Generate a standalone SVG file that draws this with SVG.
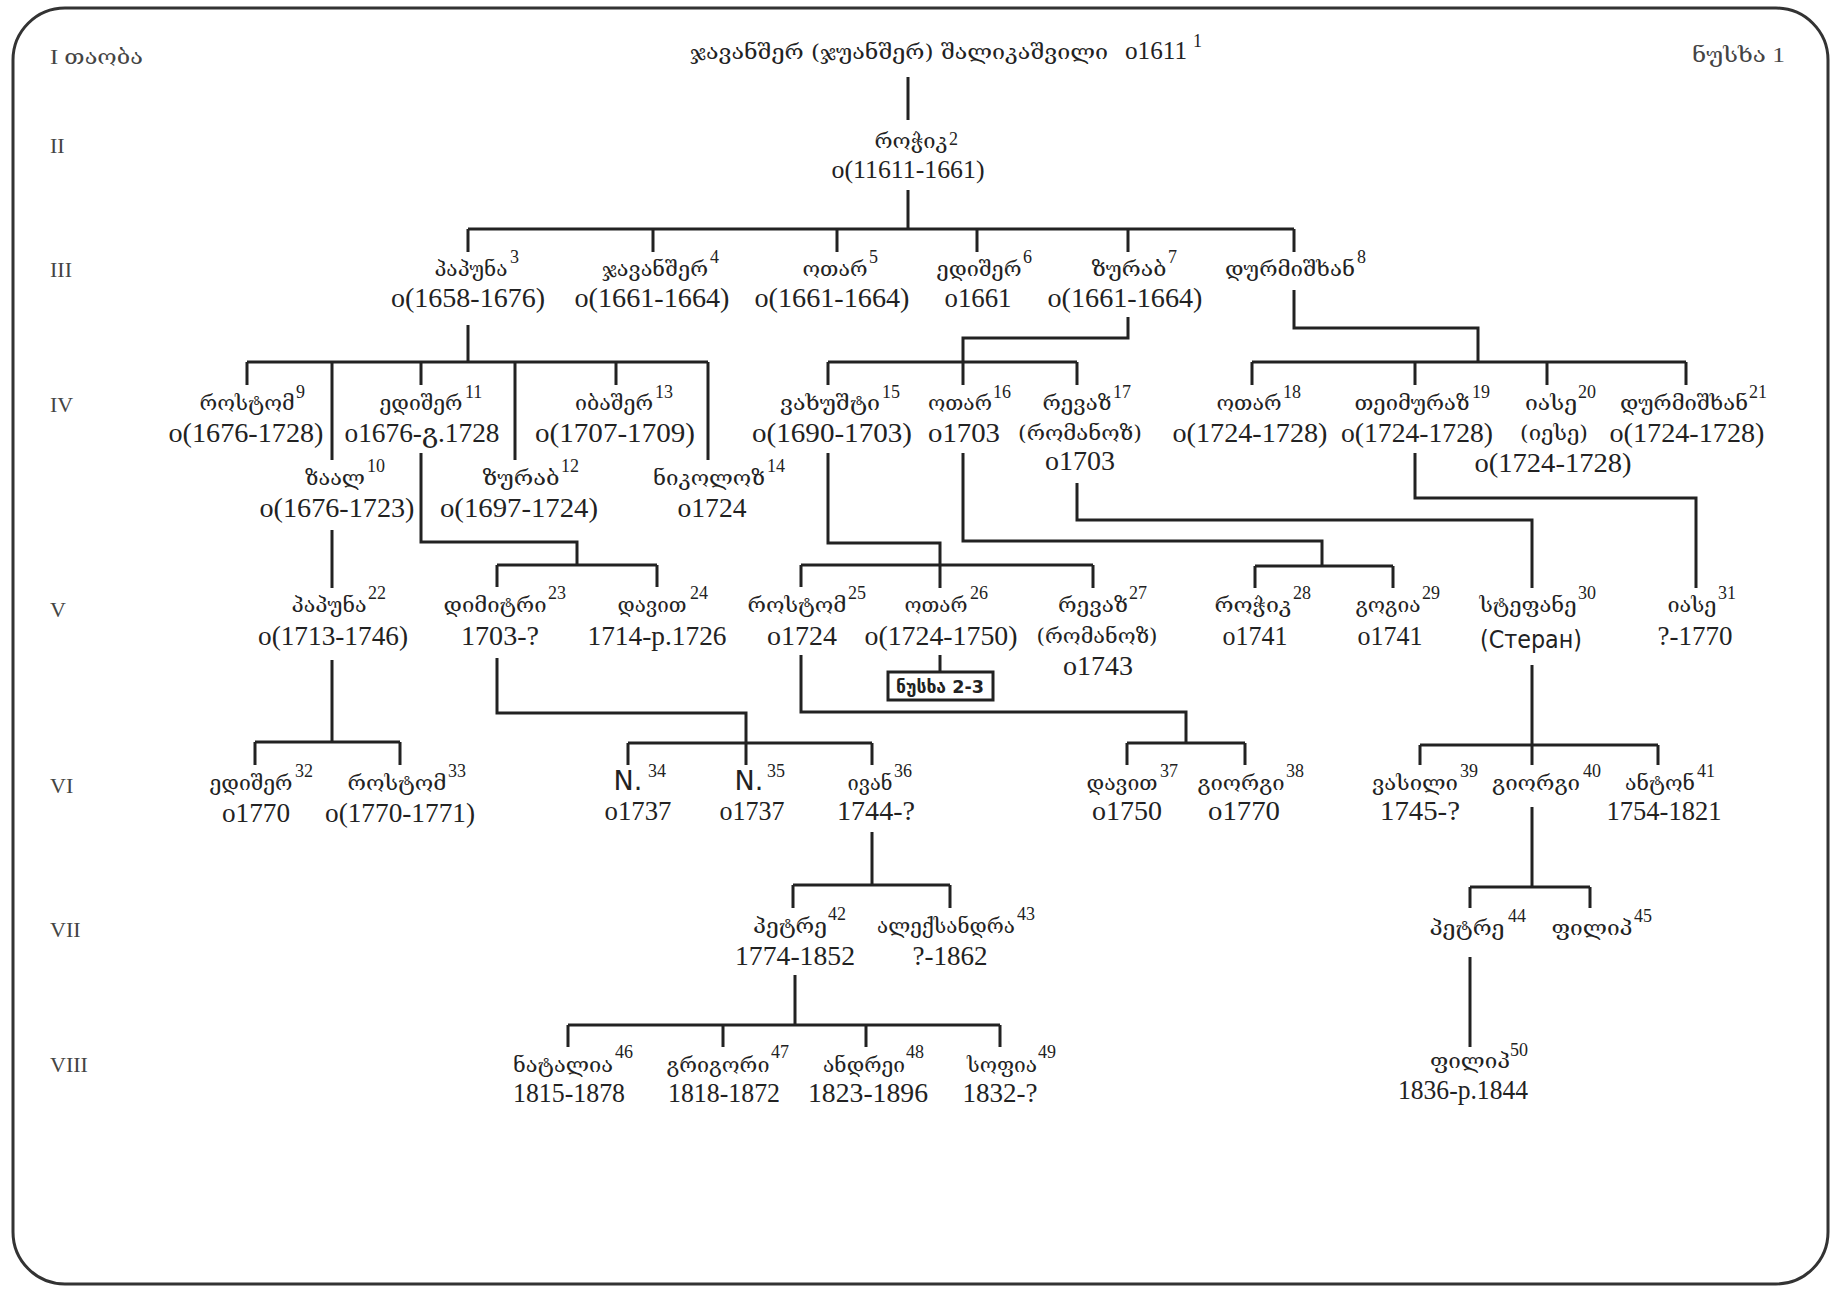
<svg xmlns="http://www.w3.org/2000/svg" width="1832" height="1290" viewBox="0 0 1832 1290">
<style>
text{fill:#222}
.nm{font-family:"DejaVu Serif","DejaVu Sans",serif;font-size:20px;text-anchor:middle}
.dt{font-family:"Liberation Serif","DejaVu Serif",serif;font-size:27px;text-anchor:middle}
.sup{font-family:"Liberation Serif",serif;font-size:18px}
.lab{font-family:"Liberation Serif","DejaVu Serif",serif;font-size:22px;fill:#444}
.sn{font-family:"DejaVu Sans",sans-serif;font-size:24px;text-anchor:middle}
.bx{font-family:"DejaVu Sans",sans-serif;font-size:17px;font-weight:bold;text-anchor:middle}
.c path{fill:none;stroke:#222;stroke-width:3}
</style>
<rect x="13" y="8" width="1815" height="1276" rx="52" fill="#fff" stroke="#333" stroke-width="3"/>
<g id="labels">
<text class="lab" x="50" y="64" textLength="93" lengthAdjust="spacingAndGlyphs">I <tspan font-family="DejaVu Serif,DejaVu Sans,serif" font-size="21">თაობა</tspan></text>
<text class="lab" x="50" y="153">II</text>
<text class="lab" x="50" y="277">III</text>
<text class="lab" x="50" y="412">IV</text>
<text class="lab" x="50" y="617">V</text>
<text class="lab" x="50" y="793">VI</text>
<text class="lab" x="50" y="937">VII</text>
<text class="lab" x="50" y="1072">VIII</text>
<text class="lab" x="1692" y="62" textLength="93" lengthAdjust="spacingAndGlyphs"><tspan font-family="DejaVu Serif,DejaVu Sans,serif" font-size="21">ნუსხა</tspan> 1</text>
</g>
<g id="connectors" class="c">
<path d="M908 77V120M908 190V229"/>
<path d="M468 229H1294M468 229V252M653 229V252M837 229V252M977 229V252M1128 229V252M1294 229V252"/>
<path d="M468 325V362M247 362H708M247 362V385M421 362V385M616 362V385M332 362V460M515 362V460M708 362V460"/>
<path d="M1128 317V338H963V362M828 362H1077M828 362V385M963 362V385M1077 362V385"/>
<path d="M1294 290V328H1478V362M1252 362H1686M1252 362V385M1415 362V385M1547 362V385M1686 362V385"/>
<path d="M332 530V588"/>
<path d="M421 453V542H577V565M497 565H657M497 565V587M657 565V587"/>
<path d="M828 453V543H940V588M801 565H1093M801 565V587M1093 565V588"/>
<path d="M963 453V541H1322V566M1255 566H1393M1255 566V588M1393 566V588"/>
<path d="M1077 483V520H1532V588"/>
<path d="M1415 453V498H1696V588"/>
<path d="M332 660V742M255 742H400M255 742V765M400 742V765"/>
<path d="M497 658V713H746V765M628 743H872M628 743V765M872 743V765"/>
<path d="M940 655V672"/>
<path d="M801 655V712H1186V743M1127 743H1245M1127 743V765M1245 743V765"/>
<path d="M1532 665V765M1420 745H1658M1420 745V765M1658 745V765"/>
<path d="M1532 807V887M1470 887H1590M1470 887V908M1590 887V908"/>
<path d="M872 832V885M793 885H950M793 885V908M950 885V908"/>
<path d="M795 975V1025M568 1025H1000M568 1025V1047M723 1025V1047M866 1025V1047M1000 1025V1047"/>
<path d="M1470 957V1047"/>
</g>
<g id="n1"><text class="nm" x="690" y="59" textLength="418" lengthAdjust="spacingAndGlyphs" style="text-anchor:start">ჯავანშერ (ჯუანშერ) შალიკაშვილი</text><text class="dt" x="1125" y="59" textLength="62" lengthAdjust="spacingAndGlyphs" style="text-anchor:start;font-size:26px">o1611</text><text class="sup" x="1193" y="47">1</text></g>
<g id="n2"><text class="nm" x="911" y="148" textLength="73" lengthAdjust="spacingAndGlyphs">როჭიკ</text><text class="sup" x="949" y="145">2</text><text class="dt" x="908" y="178" textLength="153" lengthAdjust="spacingAndGlyphs" style="font-size:26px">o(11611-1661)</text></g>
<g id="n3"><text class="nm" x="471" y="276" textLength="73" lengthAdjust="spacingAndGlyphs">პაპუნა</text><text class="sup" x="510" y="263">3</text><text class="dt" x="468" y="307" textLength="154" lengthAdjust="spacingAndGlyphs">o(1658-1676)</text></g>
<g id="n4"><text class="nm" x="655" y="276" textLength="106" lengthAdjust="spacingAndGlyphs">ჯავანშერ</text><text class="sup" x="710" y="263">4</text><text class="dt" x="652" y="307" textLength="155" lengthAdjust="spacingAndGlyphs">o(1661-1664)</text></g>
<g id="n5"><text class="nm" x="835" y="276" textLength="65" lengthAdjust="spacingAndGlyphs">ოთარ</text><text class="sup" x="869" y="263">5</text><text class="dt" x="832" y="307" textLength="155" lengthAdjust="spacingAndGlyphs">o(1661-1664)</text></g>
<g id="n6"><text class="nm" x="979" y="276" textLength="85" lengthAdjust="spacingAndGlyphs">ედიშერ</text><text class="sup" x="1023" y="263">6</text><text class="dt" x="978" y="307" textLength="67" lengthAdjust="spacingAndGlyphs">o1661</text></g>
<g id="n7"><text class="nm" x="1129" y="276" textLength="75" lengthAdjust="spacingAndGlyphs">ზურაბ</text><text class="sup" x="1168" y="263">7</text><text class="dt" x="1125" y="307" textLength="155" lengthAdjust="spacingAndGlyphs">o(1661-1664)</text></g>
<g id="n8"><text class="nm" x="1290" y="276" textLength="130" lengthAdjust="spacingAndGlyphs">დურმიშხან</text><text class="sup" x="1357" y="263">8</text></g>
<g id="n9"><text class="nm" x="247" y="410" textLength="95" lengthAdjust="spacingAndGlyphs">როსტომ</text><text class="sup" x="296" y="398">9</text><text class="dt" x="246" y="442" textLength="155" lengthAdjust="spacingAndGlyphs">o(1676-1728)</text></g>
<g id="n10"><text class="nm" x="335" y="485" textLength="60" lengthAdjust="spacingAndGlyphs">ზაალ</text><text class="sup" x="367" y="472">10</text><text class="dt" x="337" y="517" textLength="155" lengthAdjust="spacingAndGlyphs">o(1676-1723)</text></g>
<g id="n11"><text class="nm" x="421" y="410" textLength="83" lengthAdjust="spacingAndGlyphs">ედიშერ</text><text class="sup" x="465" y="398">11</text><text class="dt" x="422" y="442" textLength="155" lengthAdjust="spacingAndGlyphs">o1676-გ.1728</text></g>
<g id="n12"><text class="nm" x="521" y="485" textLength="77" lengthAdjust="spacingAndGlyphs">ზურაბ</text><text class="sup" x="561" y="472">12</text><text class="dt" x="519" y="517" textLength="158" lengthAdjust="spacingAndGlyphs">o(1697-1724)</text></g>
<g id="n13"><text class="nm" x="614" y="410" textLength="78" lengthAdjust="spacingAndGlyphs">იბაშერ</text><text class="sup" x="655" y="398">13</text><text class="dt" x="615" y="442" textLength="160" lengthAdjust="spacingAndGlyphs">o(1707-1709)</text></g>
<g id="n14"><text class="nm" x="709" y="485" textLength="112" lengthAdjust="spacingAndGlyphs">ნიკოლოზ</text><text class="sup" x="767" y="472">14</text><text class="dt" x="712" y="517" textLength="69" lengthAdjust="spacingAndGlyphs">o1724</text></g>
<g id="n15"><text class="nm" x="830" y="410" textLength="100" lengthAdjust="spacingAndGlyphs">ვახუშტი</text><text class="sup" x="882" y="398">15</text><text class="dt" x="832" y="442" textLength="160" lengthAdjust="spacingAndGlyphs">o(1690-1703)</text></g>
<g id="n16"><text class="nm" x="960" y="410" textLength="64" lengthAdjust="spacingAndGlyphs">ოთარ</text><text class="sup" x="993" y="398">16</text><text class="dt" x="964" y="442" textLength="72" lengthAdjust="spacingAndGlyphs">o1703</text></g>
<g id="n17"><text class="nm" x="1077" y="410" textLength="69" lengthAdjust="spacingAndGlyphs">რევაზ</text><text class="sup" x="1113" y="398">17</text><text class="nm" x="1080" y="440" textLength="124" lengthAdjust="spacingAndGlyphs">(რომანოზ)</text><text class="dt" x="1080" y="470" textLength="70" lengthAdjust="spacingAndGlyphs">o1703</text></g>
<g id="n18"><text class="nm" x="1249" y="410" textLength="65" lengthAdjust="spacingAndGlyphs">ოთარ</text><text class="sup" x="1283" y="398">18</text><text class="dt" x="1250" y="442" textLength="155" lengthAdjust="spacingAndGlyphs">o(1724-1728)</text></g>
<g id="n19"><text class="nm" x="1412" y="410" textLength="115" lengthAdjust="spacingAndGlyphs">თეიმურაზ</text><text class="sup" x="1472" y="398">19</text><text class="dt" x="1417" y="442" textLength="152" lengthAdjust="spacingAndGlyphs">o(1724-1728)</text></g>
<g id="n20"><text class="nm" x="1551" y="410" textLength="52" lengthAdjust="spacingAndGlyphs">იასე</text><text class="sup" x="1578" y="398">20</text><text class="nm" x="1554" y="440" textLength="68" lengthAdjust="spacingAndGlyphs">(იესე)</text><text class="dt" x="1553" y="472" textLength="157" lengthAdjust="spacingAndGlyphs">o(1724-1728)</text></g>
<g id="n21"><text class="nm" x="1684" y="410" textLength="128" lengthAdjust="spacingAndGlyphs">დურმიშხან</text><text class="sup" x="1749" y="398">21</text><text class="dt" x="1687" y="442" textLength="155" lengthAdjust="spacingAndGlyphs">o(1724-1728)</text></g>
<g id="n22"><text class="nm" x="329" y="612" textLength="75" lengthAdjust="spacingAndGlyphs">პაპუნა</text><text class="sup" x="368" y="599">22</text><text class="dt" x="333" y="645" textLength="150" lengthAdjust="spacingAndGlyphs">o(1713-1746)</text></g>
<g id="n23"><text class="nm" x="495" y="612" textLength="103" lengthAdjust="spacingAndGlyphs">დიმიტრი</text><text class="sup" x="548" y="599">23</text><text class="dt" x="500" y="645" textLength="78" lengthAdjust="spacingAndGlyphs">1703-?</text></g>
<g id="n24"><text class="nm" x="652" y="612" textLength="69" lengthAdjust="spacingAndGlyphs">დავით</text><text class="sup" x="690" y="599">24</text><text class="dt" x="657" y="645" textLength="139" lengthAdjust="spacingAndGlyphs">1714-p.1726</text></g>
<g id="n25"><text class="nm" x="797" y="612" textLength="99" lengthAdjust="spacingAndGlyphs">როსტომ</text><text class="sup" x="848" y="599">25</text><text class="dt" x="802" y="645" textLength="70" lengthAdjust="spacingAndGlyphs">o1724</text></g>
<g id="n26"><text class="nm" x="936" y="612" textLength="63" lengthAdjust="spacingAndGlyphs">ოთარ</text><text class="sup" x="970" y="599">26</text><text class="dt" x="941" y="645" textLength="153" lengthAdjust="spacingAndGlyphs">o(1724-1750)</text></g>
<g id="ref23"><rect x="888" y="672" width="105" height="28" fill="#fff" stroke="#222" stroke-width="3"/><text class="bx" x="940" y="693" textLength="88" lengthAdjust="spacingAndGlyphs">ნუსხა 2-3</text></g>
<g id="n27"><text class="nm" x="1093" y="612" textLength="70" lengthAdjust="spacingAndGlyphs">რევაზ</text><text class="sup" x="1129" y="599">27</text><text class="nm" x="1097" y="643" textLength="121" lengthAdjust="spacingAndGlyphs">(რომანოზ)</text><text class="dt" x="1098" y="675" textLength="70" lengthAdjust="spacingAndGlyphs">o1743</text></g>
<g id="n28"><text class="nm" x="1253" y="612" textLength="77" lengthAdjust="spacingAndGlyphs">როჭიკ</text><text class="sup" x="1293" y="599">28</text><text class="dt" x="1255" y="645" textLength="65" lengthAdjust="spacingAndGlyphs">o1741</text></g>
<g id="n29"><text class="nm" x="1388" y="612" textLength="65" lengthAdjust="spacingAndGlyphs">გოგია</text><text class="sup" x="1422" y="599">29</text><text class="dt" x="1390" y="645" textLength="65" lengthAdjust="spacingAndGlyphs">o1741</text></g>
<g id="n30"><text class="nm" x="1528" y="612" textLength="97" lengthAdjust="spacingAndGlyphs">სტეფანე</text><text class="sup" x="1578" y="599">30</text><text class="sn" x="1531" y="648" textLength="102" lengthAdjust="spacingAndGlyphs">(Стеран)</text></g>
<g id="n31"><text class="nm" x="1692" y="612" textLength="49" lengthAdjust="spacingAndGlyphs">იასე</text><text class="sup" x="1718" y="599">31</text><text class="dt" x="1695" y="645" textLength="75" lengthAdjust="spacingAndGlyphs">?-1770</text></g>
<g id="n32"><text class="nm" x="251" y="790" textLength="83" lengthAdjust="spacingAndGlyphs">ედიშერ</text><text class="sup" x="295" y="777">32</text><text class="dt" x="256" y="822" textLength="68" lengthAdjust="spacingAndGlyphs">o1770</text></g>
<g id="n33"><text class="nm" x="397" y="790" textLength="99" lengthAdjust="spacingAndGlyphs">როსტომ</text><text class="sup" x="448" y="777">33</text><text class="dt" x="400" y="822" textLength="150" lengthAdjust="spacingAndGlyphs">o(1770-1771)</text></g>
<g id="n34"><text class="sn" x="628" y="790" style="font-size:27px">N.</text><text class="sup" x="648" y="777">34</text><text class="dt" x="638" y="820" textLength="67" lengthAdjust="spacingAndGlyphs">o1737</text></g>
<g id="n35"><text class="sn" x="749" y="790" style="font-size:27px">N.</text><text class="sup" x="767" y="777">35</text><text class="dt" x="752" y="820" textLength="65" lengthAdjust="spacingAndGlyphs">o1737</text></g>
<g id="n36"><text class="nm" x="870" y="790" textLength="45" lengthAdjust="spacingAndGlyphs">ივან</text><text class="sup" x="894" y="777">36</text><text class="dt" x="876" y="820" textLength="78" lengthAdjust="spacingAndGlyphs">1744-?</text></g>
<g id="n37"><text class="nm" x="1122" y="790" textLength="71" lengthAdjust="spacingAndGlyphs">დავით</text><text class="sup" x="1160" y="777">37</text><text class="dt" x="1127" y="820" textLength="70" lengthAdjust="spacingAndGlyphs">o1750</text></g>
<g id="n38"><text class="nm" x="1241" y="790" textLength="87" lengthAdjust="spacingAndGlyphs">გიორგი</text><text class="sup" x="1286" y="777">38</text><text class="dt" x="1244" y="820" textLength="72" lengthAdjust="spacingAndGlyphs">o1770</text></g>
<g id="n39"><text class="nm" x="1415" y="790" textLength="86" lengthAdjust="spacingAndGlyphs">ვასილი</text><text class="sup" x="1460" y="777">39</text><text class="dt" x="1420" y="820" textLength="80" lengthAdjust="spacingAndGlyphs">1745-?</text></g>
<g id="n40"><text class="nm" x="1536" y="790" textLength="88" lengthAdjust="spacingAndGlyphs">გიორგი</text><text class="sup" x="1583" y="777">40</text></g>
<g id="n41"><text class="nm" x="1660" y="790" textLength="70" lengthAdjust="spacingAndGlyphs">ანტონ</text><text class="sup" x="1697" y="777">41</text><text class="dt" x="1664" y="820" textLength="115" lengthAdjust="spacingAndGlyphs">1754-1821</text></g>
<g id="n42"><text class="nm" x="790" y="933" textLength="74" lengthAdjust="spacingAndGlyphs">პეტრე</text><text class="sup" x="828" y="920">42</text><text class="dt" x="795" y="965" textLength="120" lengthAdjust="spacingAndGlyphs">1774-1852</text></g>
<g id="n43"><text class="nm" x="946" y="933" textLength="138" lengthAdjust="spacingAndGlyphs">ალექსანდრა</text><text class="sup" x="1017" y="920">43</text><text class="dt" x="950" y="965" textLength="75" lengthAdjust="spacingAndGlyphs">?-1862</text></g>
<g id="n44"><text class="nm" x="1467" y="935" textLength="75" lengthAdjust="spacingAndGlyphs">პეტრე</text><text class="sup" x="1508" y="922">44</text></g>
<g id="n45"><text class="nm" x="1592" y="935" textLength="81" lengthAdjust="spacingAndGlyphs">ფილიპ</text><text class="sup" x="1634" y="922">45</text></g>
<g id="n46"><text class="nm" x="563" y="1072" textLength="100" lengthAdjust="spacingAndGlyphs">ნატალია</text><text class="sup" x="615" y="1058">46</text><text class="dt" x="569" y="1102" textLength="112" lengthAdjust="spacingAndGlyphs">1815-1878</text></g>
<g id="n47"><text class="nm" x="718" y="1072" textLength="103" lengthAdjust="spacingAndGlyphs">გრიგორი</text><text class="sup" x="771" y="1058">47</text><text class="dt" x="724" y="1102" textLength="112" lengthAdjust="spacingAndGlyphs">1818-1872</text></g>
<g id="n48"><text class="nm" x="864" y="1072" textLength="82" lengthAdjust="spacingAndGlyphs">ანდრეი</text><text class="sup" x="906" y="1058">48</text><text class="dt" x="868" y="1102" textLength="120" lengthAdjust="spacingAndGlyphs">1823-1896</text></g>
<g id="n49"><text class="nm" x="1002" y="1072" textLength="70" lengthAdjust="spacingAndGlyphs">სოფია</text><text class="sup" x="1038" y="1058">49</text><text class="dt" x="1000" y="1102" textLength="75" lengthAdjust="spacingAndGlyphs">1832-?</text></g>
<g id="n50"><text class="nm" x="1470" y="1068" textLength="80" lengthAdjust="spacingAndGlyphs">ფილიპ</text><text class="sup" x="1510" y="1056">50</text><text class="dt" x="1463" y="1099" textLength="130" lengthAdjust="spacingAndGlyphs">1836-p.1844</text></g>
</svg>
